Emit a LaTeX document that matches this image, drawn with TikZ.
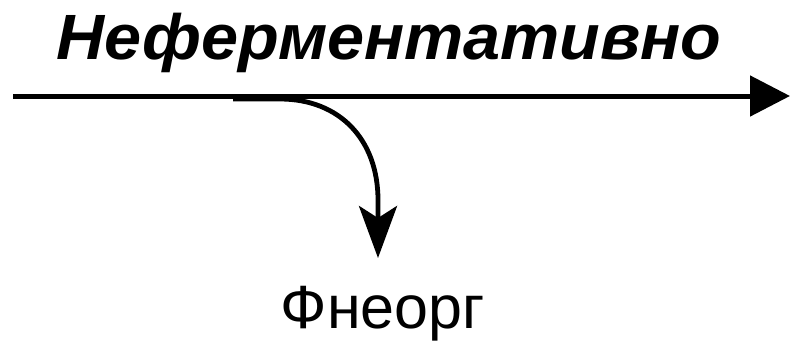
\documentclass[tikz,border=0pt]{standalone}
\usepackage{fontspec}
\setmainfont{Liberation Sans}
\usetikzlibrary{arrows.meta}
\begin{document}
\begin{tikzpicture}[x=1pt,y=-1pt,
  mainline/.style={line width=5pt,-{Triangle[length=40pt,width=40pt]}},
  branch/.style={line width=4.8pt,-{Stealth[length=52pt,width=38pt,inset=12pt]}},
  lbl/.style={inner sep=0pt,anchor=base}]
\useasboundingbox (0,0) rectangle (790,341);
\coordinate (start) at (13,96);
\coordinate (end) at (790,96);
\coordinate (fork) at (233,99);
\node[lbl,font=\fontsize{64}{64}\selectfont\bfseries\itshape,xscale=1.04] (top) at (389,59) {Неферментативно};
\node[lbl,font=\fontsize{61}{61}\selectfont] (prod) at (383,328) {Фнеорг};
\draw[mainline] (start) -- (end);
\draw[branch] (fork) -- (280,99) .. controls (340,99) and (378,140) .. (378,200) -- (378,258);
\end{tikzpicture}
\end{document}
